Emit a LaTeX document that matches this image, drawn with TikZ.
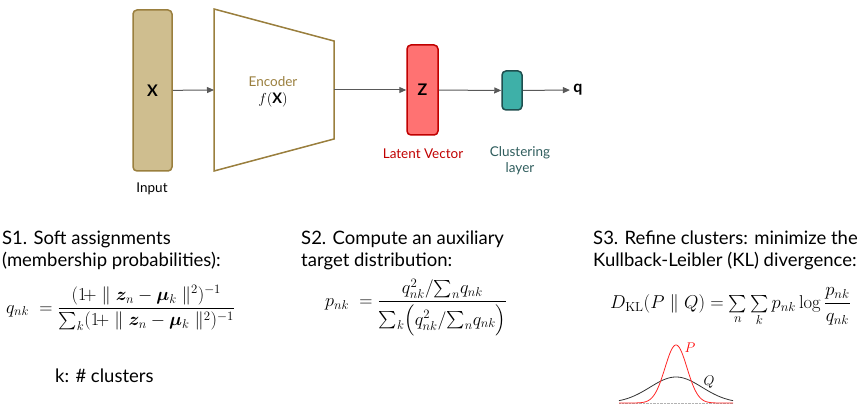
\RequirePackage{fix-cm}
\documentclass[tikz,border=0pt]{standalone}
\usepackage{amsmath,bm}
\usepackage[no-math]{fontspec}
\setmainfont{Lato}
\usepackage{tikz}
\usetikzlibrary{arrows.meta,positioning}
\definecolor{inputfill}{HTML}{CFBE8F}
\definecolor{inputline}{HTML}{9A7F3E}
\definecolor{latentfill}{HTML}{FF7272}
\definecolor{latentline}{HTML}{C00000}
\definecolor{clusterfill}{HTML}{3EB0A8}
\definecolor{clusterline}{HTML}{1F4F4F}
\definecolor{clustertext}{HTML}{2F5D5D}
\definecolor{arrowgray}{HTML}{595959}
\tikzset{blk/.style={draw,rounded corners=4pt,line width=1.5pt,inner sep=0pt,font=\fontsize{16}{18}\selectfont\bfseries}}
\tikzset{lbl/.style={font=\fontsize{13.5}{16}\selectfont,align=center}}
\tikzset{stxt/.style={anchor=base west,inner sep=0pt,align=left,font=\fontsize{18.5}{21}\selectfont}}
\tikzset{eq/.style={anchor=west,inner sep=0pt,font=\fontsize{18.3}{21}\selectfont}}
\tikzset{link/.style={->,draw=arrowgray,line width=1pt}}

\begin{document}
\begin{tikzpicture}[x=1pt,y=-1pt,>={Triangle[length=7pt,width=6pt]}]
        \useasboundingbox (0,0) rectangle (866,411);

        % network
        \node[blk,fill=inputfill,draw=inputline,minimum width=39pt,minimum height=161pt] (x) at (152.5,90.5) {X};
        \node[lbl] (input) at (152,189) {Input};

        \draw[draw=inputline,line width=1.5pt,fill=white] (214,9) -- (334,41) -- (334,139) -- (214,171) -- cycle;
        \coordinate (encin) at (214,90);
        \coordinate (encout) at (334,90);
        \node[lbl,text=inputline] (enc) at (273,82) {Encoder};
        \node[lbl,font=\fontsize{14.5}{16}\selectfont] (fx) at (273,100) {$f($\textbf{X}$)$};

        \node[blk,fill=latentfill,draw=latentline,minimum width=31pt,minimum height=90pt] (z) at (422.5,90) {Z};
        \node[lbl,text=latentline] (latent) at (423,154) {Latent Vector};

        \node[blk,fill=clusterfill,draw=clusterline,minimum width=20pt,minimum height=39pt] (cl) at (512,90.5) {};
        \node[lbl,text=clustertext] (cltext) at (520,161) {Clustering\\layer};
        \node[font=\fontsize{16}{18}\selectfont\bfseries] (q) at (578,90) {q};

        \draw [link] (x) -- (encin);
        \draw [link] (encout) -- (z);
        \draw [link] (z) -- (cl);
        \draw [link] (cl) -- (q);

        % steps
        \node[stxt] (s1) at (2,266) {S1. Soft assignments\\(membership probabilities):};
        \node[eq] (eq1) at (6,308) {$q_{nk}\;=\dfrac{(1\!+\parallel \bm{z}_n-\bm{\mu}_k \parallel^2)^{-1}}{\sum_k(1\!+\parallel \bm{z}_n-\bm{\mu}_k \parallel^2)^{-1}}$};
        \node[stxt] (k) at (55,382) {k: \# clusters};

        \node[stxt] (s2) at (301,266) {S2. Compute an auxiliary\\target distribution:};
        \node[eq] (eq2) at (325,308) {$p_{nk}\;=\dfrac{q_{nk}^2/{\textstyle\sum_n} q_{nk}}{\sum_k\Bigl(q_{nk}^2/{\textstyle\sum_n} q_{nk}\Bigr)}$};

        \node[stxt] (s3) at (593,266) {S3. Refine clusters: minimize the\\Kullback-Leibler (KL) divergence:};
        \node[eq,font=\fontsize{18.6}{21}\selectfont] (eq3) at (610,307) {$D_{\mathrm{KL}}(P\parallel Q)=\sum\limits_n\sum\limits_k p_{nk}\log\dfrac{p_{nk}}{q_{nk}}$};

        % P and Q curves
        \draw[gray!60,densely dotted] (619,403) -- (733,403);
        \draw[black!80,line width=0.8pt] plot[domain=619:733,samples=90,smooth] (\x,{403-26*exp(-((\x-676)/26)*((\x-676)/26)/2)});
        \draw[red!85,line width=0.8pt] plot[domain=619:733,samples=120,smooth] (\x,{403-58*exp(-((\x-676)/11)*((\x-676)/11)/2)});
        \node[text=red,font=\fontsize{14}{16}\selectfont] (P) at (690,348) {$P$};
        \node[font=\fontsize{14}{16}\selectfont] (Q) at (709,382) {$Q$};
    \end{tikzpicture}
\end{document}
